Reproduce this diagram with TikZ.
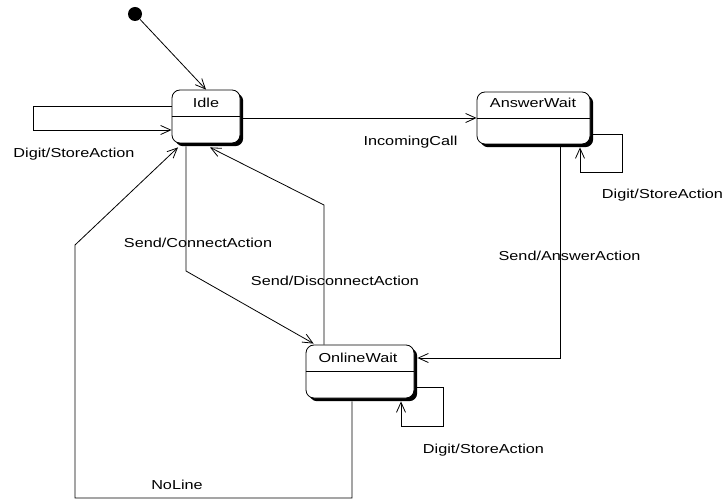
\documentclass[tikz,border=0pt]{standalone}
\usepackage{fontspec}
\newfontfamily\lblfont[FakeStretch=1.25]{Liberation Sans}
\usetikzlibrary{arrows.meta,calc,shadows}
\begin{document}
\begin{tikzpicture}[x=1pt,y=-1pt,line width=0.8pt,
  arr/.style={-{Straight Barb[length=10pt,width=9pt,line width=0.8pt]}},
  lbl/.style={font=\lblfont\fontsize{13}{15}\selectfont,inner sep=0pt},
  state/.style={draw,fill=white,rounded corners=8pt,inner sep=0pt,
    drop shadow={shadow xshift=3.2pt,shadow yshift=-3.2pt,opacity=1,fill=black}},
  dot/.style={circle,fill=black,minimum size=14pt,inner sep=0pt}]
\useasboundingbox (0,0) rectangle (725,502);
% states
\node[state,minimum width=68pt,minimum height=53pt] (idle) at (206,116.5) {};
\node[state,minimum width=113pt,minimum height=52pt] (aw) at (533.5,118) {};
\node[state,minimum width=108pt,minimum height=53pt] (ow) at (360,371.5) {};
\draw (idle.west) -- (idle.east);
\draw (aw.west) -- (aw.east);
\draw (ow.west) -- (ow.east);
\node[lbl] (idlet) at (206,103) {Idle};
\node[lbl] (awt) at (533,103) {AnswerWait};
\node[lbl] (owt) at (358,358) {OnlineWait};
% initial
\node[dot] (init) at (135,14) {};
\draw[arr] (init) -- (idle.north);
% Idle self loop
\draw[arr] ($(idle.west)+(0,-10.5)$) -- (33,106) -- (33,130) -- ($(idle.west)+(0,13.5)$);
\node[lbl] (l1) at (74,154) {Digit/StoreAction};
% Idle -> AnswerWait
\draw[arr] ($(idle.east |- aw.west)+(3,0)$) -- (aw.west);
\node[lbl] (l2) at (410.5,142) {IncomingCall};
% AnswerWait self loop
\draw[arr] ($(aw.east)+(3,16)$) -- (622,134) -- (622,172) -- (580,172) -- ($(aw.south)+(46.5,3)$);
\node[lbl] (l3) at (662.5,195) {Digit/StoreAction};
% AnswerWait -> OnlineWait
\draw[arr] ($(aw.south)+(26.5,3)$) |- ($(ow.east)+(3,-13.5)$);
\node[lbl] (l4) at (569.5,256) {Send/AnswerAction};
% OnlineWait self loop
\draw[arr] ($(ow.east)+(3,16)$) -- (443,387.5) -- (443,426) -- (401,426) -- ($(ow.south)+(41,3)$);
\node[lbl] (l5) at (483.5,450) {Digit/StoreAction};
% Idle -> OnlineWait
\draw[arr] ($(idle.south)+(-20,3)$) -- (186,271) -- ($(ow.north west)+(8,-1)$);
\node[lbl] (l6) at (198,243) {Send/ConnectAction};
% OnlineWait -> Idle
\draw[arr] ($(ow.north)+(-36,0)$) -- (324,205) -- ($(idle.south)+(4,4)$);
\node[lbl] (l7) at (335,281) {Send/DisconnectAction};
% NoLine
\draw[arr] ($(ow.south)+(-8,3)$) -- (352,498) -- (75,498) -- (75,245) -- ($(idle.south)+(-28,4)$);
\node[lbl] (l8) at (177,485) {NoLine};
\end{tikzpicture}
\end{document}
